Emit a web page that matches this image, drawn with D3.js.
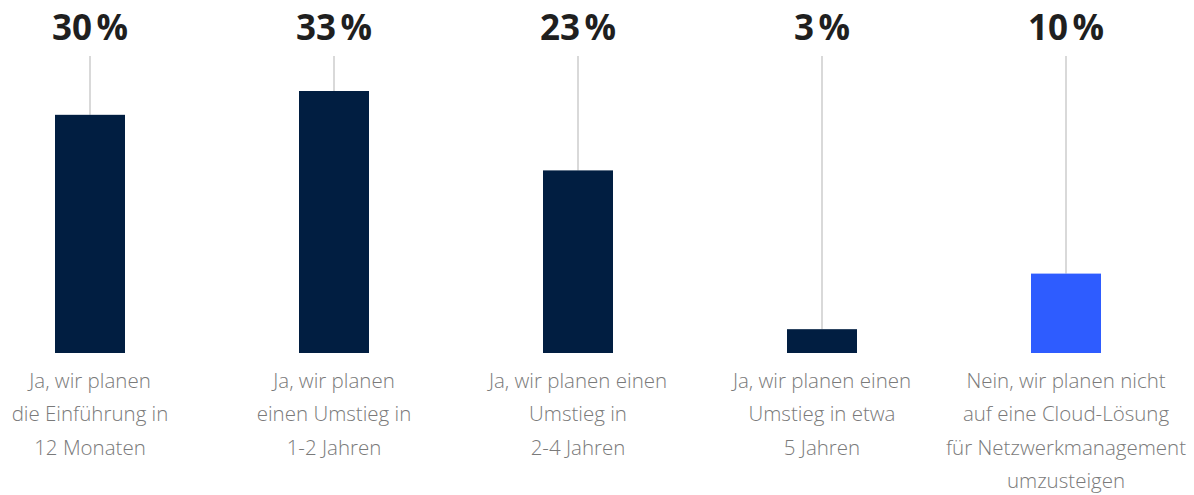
<!DOCTYPE html>
<html>
<head>
<meta charset="utf-8">
<script src="https://cdn.jsdelivr.net/npm/d3@7"></script>
<style>
  html, body { margin: 0; padding: 0; background: #fff; }
  svg { display: block; font-family: "Open Sans", sans-serif; }
</style>
</head>
<body>
<div id="chart"></div>
<script>
// data
const categories = [
  ['Ja, wir planen', 'die Einführung in', '12 Monaten'],
  ['Ja, wir planen', 'einen Umstieg in', '1-2 Jahren'],
  ['Ja, wir planen einen', 'Umstieg in', '2-4 Jahren'],
  ['Ja, wir planen einen', 'Umstieg in etwa', '5 Jahren'],
  ['Nein, wir planen nicht', 'auf eine Cloud-Lösung', 'für Netzwerkmanagement', 'umzusteigen']
];
const values = [30, 33, 23, 3, 10];
const highlight = [false, false, false, false, true];

const width = 1194;
const height = 495;
const barWidth = 70;
const baseY = 353;

const svg = d3.select('#chart')
    .append('svg')
    .attr('width', width)
    .attr('height', height);

const x = d3.scalePoint()
    .domain(d3.range(values.length))
    .range([90, 1066]);

const y = d3.scaleLinear()
    .domain([0, 33])
    .range([baseY, 91]);

const g = svg.selectAll('.item')
    .data(values)
    .enter()
    .append('g')
    .attr('class', 'item');

// connector lines
g.append('line')
    .attr('x1', (d, i) => x(i))
    .attr('x2', (d, i) => x(i))
    .attr('y1', 56)
    .attr('y2', (d) => y(d))
    .attr('stroke', '#b3b3b3')
    .attr('stroke-width', 1);

// bars
g.append('rect')
    .attr('x', (d, i) => x(i) - barWidth / 2)
    .attr('y', (d) => y(d))
    .attr('width', barWidth)
    .attr('height', (d) => y(0) - y(d))
    .attr('fill', (d, i) => highlight[i] ? '#2e5cff' : '#011e41');

// value labels
g.append('text')
    .attr('x', (d, i) => x(i))
    .attr('y', 40)
    .attr('text-anchor', 'middle')
    .attr('font-size', 35)
    .attr('font-weight', 700)
    .attr('fill', '#1f1f1f')
    .text((d) => d + '\u202F%');

// category labels
g.append('text')
    .attr('text-anchor', 'middle')
    .attr('font-size', 20.5)
    .attr('font-weight', 300)
    .attr('fill', '#7a7a7a')
    .selectAll('tspan')
    .data((d, i) => categories[i].map((t) => ({t, i})))
    .enter()
    .append('tspan')
    .attr('x', (d) => x(d.i))
    .attr('y', (d, j) => 388 + j * 33.3)
    .text((d) => d.t);
</script>
</body>
</html>
